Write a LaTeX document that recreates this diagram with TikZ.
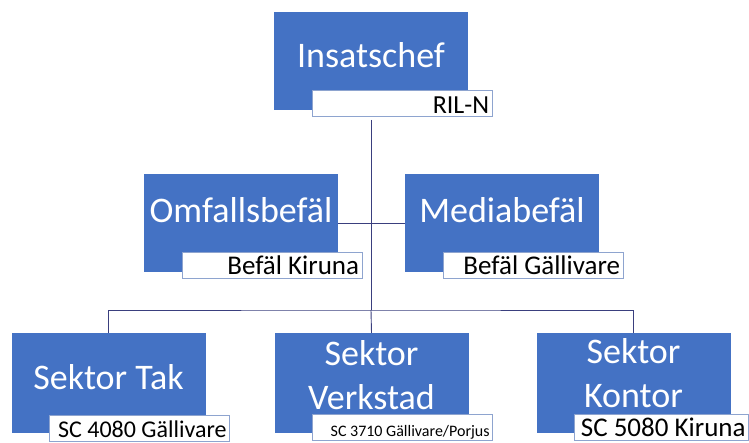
\documentclass[tikz,border=0pt]{standalone}
\usepackage{fontspec}
\setmainfont{Carlito}
\usetikzlibrary{positioning}
\definecolor{boxblue}{HTML}{4472C4}
\definecolor{tagline}{HTML}{8EA4CF}
\definecolor{linkcol}{HTML}{3A3F7E}

\begin{document}
\begin{tikzpicture}[
    x=1pt, y=-1pt,
    boss/.style={rectangle, fill=boxblue, minimum width=194pt, minimum height=98pt, inner sep=0pt},
    title/.style={text=white, inner sep=0pt, font=\fontsize{36}{44}\selectfont, align=center},
    tag/.style={rectangle, fill=white, draw=tagline, line width=0.6pt, anchor=south west,
      text width=174pt, align=flush right, inner xsep=3pt, inner ysep=2pt,
      text height=21pt, text depth=1pt, font=\fontsize{27}{30}\selectfont},
    link/.style={draw=linkcol, line width=0.9pt}
  ]
  \useasboundingbox (0,0) rectangle (749,443);
  \clip (0,0) rectangle (749,443);

  % blue boxes
  \node[boss] (chief) at (371,61.5) {};
  \node[boss] (omf) at (241,223) {};
  \node[boss] (media) at (502,223) {};
  \node[boss, minimum height=100pt] (tak) at (108.5,383) {};
  \node[boss, minimum height=100pt] (verk) at (371.5,383) {};
  \node[boss, minimum height=100pt] (kontor) at (633.5,383) {};

  % connectors
  \coordinate (hub) at (chief.south |- 0,310);
  \draw[link] (chief.south |- 0,120) -- (hub);
  \draw[link] (omf.east) -- (media.west);
  \draw[link] (tak.north) |- (hub) -| (kontor.north);
  \draw[link] (hub) -- (verk.north);

  % titles
  \node[title, anchor=base] (chief-t) at ([yshift=-55pt]chief.north) {Insatschef};
  \node[title, anchor=base] (omf-t) at ([yshift=-49pt]omf.north) {Omfallsbefäl};
  \node[title, anchor=base] (media-t) at ([yshift=-49pt]media.north) {Mediabefäl};
  \node[title, anchor=base] (tak-t) at ([yshift=-57pt]tak.north) {Sektor Tak};
  \node[title] (verk-t) at ([yshift=-42pt]verk.north) {Sektor\\Verkstad};
  \node[title] (kontor-t) at ([yshift=-40pt]kontor.north) {Sektor\\Kontor};

  % name tags
  \node[tag, font=\fontsize{26}{30}\selectfont] (ril) at ([xshift=38pt,yshift=-6pt]chief.south west) {RIL-N};
  \node[tag] (kir) at ([xshift=38pt,yshift=-6pt]omf.south west) {Befäl Kiruna};
  \node[tag] (gal) at ([xshift=38pt,yshift=-6pt]media.south west) {Befäl Gällivare};
  \node[tag, font=\fontsize{24}{30}\selectfont] (sc4080) at ([xshift=38pt,yshift=-8pt]tak.south west) {\mbox{SC 4080 Gällivare}};
  \node[tag, font=\fontsize{16}{20}\selectfont] (sc3710) at ([xshift=38pt,yshift=-7pt]verk.south west) {SC 3710 Gällivare/Porjus};
  \node[tag, text width=168pt] (sc5080) at ([xshift=38pt,yshift=-7pt]kontor.south west) {\mbox{SC 5080 Kiruna}};
\end{tikzpicture}
\end{document}
